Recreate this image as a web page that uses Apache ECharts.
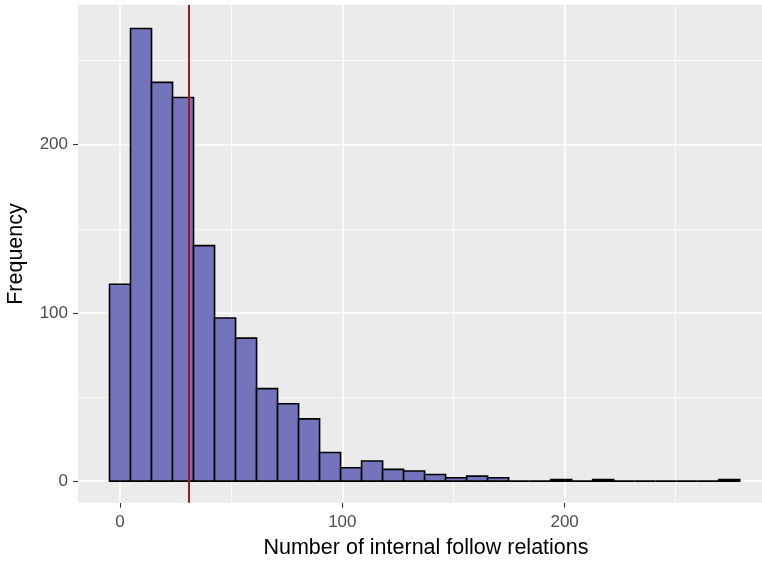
<!DOCTYPE html>
<html>
<head>
<meta charset="utf-8">
<script src="https://cdn.jsdelivr.net/npm/echarts@6/dist/echarts.min.js"></script>
<style>
  html, body { margin: 0; padding: 0; background: #fff; }
  #chart { width: 762px; height: 561px; }
</style>
</head>
<body>
<div id="chart"></div>
<script>
// histogram bins (centre of each bin) and counts
const binWidth = 9.45
const binCenters = [0, 9.45, 18.9, 28.35, 37.8, 47.25, 56.7, 66.15, 75.6, 85.05,
  94.5, 103.95, 113.4, 122.85, 132.3, 141.75, 151.2, 160.65, 170.1, 179.55,
  189, 198.45, 207.9, 217.35, 226.8, 236.25, 245.7, 255.15, 264.6, 274.05]
const counts = [117, 269, 237, 228, 140, 97, 85, 55, 46, 37,
  17, 8, 12, 7, 6, 4, 2, 3, 2, 0,
  0, 1, 0, 1, 0, 0, 0, 0, 0, 1]
const meanValue = 31

const xTicks = [0, 100, 200]
const xMinor = [50, 150, 250]
const yTicks = [0, 100, 200]
const yMinor = [50, 150, 250]

const font = 'Liberation Sans, Arial, sans-serif'
const chart = echarts.init(document.getElementById('chart'))

const gridLines = (vals, key, width) => vals.map(v => ({
  [key]: v,
  lineStyle: { color: '#ffffff', width: width, type: 'solid' }
}))

chart.setOption({
  animation: false,
  grid: {
    left: 78, right: 0, top: 5, bottom: 58.3,
    show: true, backgroundColor: '#EBEBEB', borderWidth: 0
  },
  xAxis: {
    type: 'value',
    min: -18.9,
    max: 288.8,
    splitLine: { show: false },
    axisLine: { show: false, onZero: false },
    axisTick: { show: true, customValues: xTicks, length: 5, lineStyle: { color: '#333333', width: 1.1 } },
    axisLabel: { customValues: xTicks, color: '#4D4D4D', fontSize: 17, fontFamily: font, margin: 11 }
  },
  yAxis: {
    type: 'value',
    min: -12.8,
    max: 283,
    splitLine: { show: false },
    axisLine: { show: false, onZero: false },
    axisTick: { show: true, customValues: yTicks, length: 5, lineStyle: { color: '#333333', width: 1.1 } },
    axisLabel: { customValues: yTicks, color: '#4D4D4D', fontSize: 17, fontFamily: font, margin: 10 }
  },
  series: [
    {
      // panel grid lines, kept under the bars
      type: 'line',
      data: [],
      z: 1,
      silent: true,
      markLine: {
        z: 1,
        silent: true,
        symbol: ['none', 'none'],
        label: { show: false },
        data: [
          ...gridLines(xMinor, 'xAxis', 0.8),
          ...gridLines(yMinor, 'yAxis', 0.8),
          ...gridLines(xTicks, 'xAxis', 1.6),
          ...gridLines(yTicks, 'yAxis', 1.6)
        ]
      }
    },
    {
      type: 'custom',
      z: 3,
      data: binCenters.map((c, i) => [c, counts[i]]),
      renderItem: (params, api) => {
        const c = api.value(0)
        const n = api.value(1)
        const p0 = api.coord([c - binWidth / 2, n])
        const p1 = api.coord([c + binWidth / 2, 0])
        return {
          type: 'rect',
          shape: { x: p0[0], y: p0[1], width: p1[0] - p0[0], height: p1[1] - p0[1] },
          style: { fill: '#7474BC', stroke: '#000000', lineWidth: 1.6 }
        }
      },
      markLine: {
        z: 6,
        silent: true,
        symbol: ['none', 'none'],
        label: { show: false },
        lineStyle: { color: '#A3191E', width: 2, type: 'solid' },
        data: [{ xAxis: meanValue }]
      }
    }
  ],
  graphic: [
    {
      type: 'text',
      x: 16.5, y: 254,
      rotation: Math.PI / 2,
      style: { text: 'Frequency', font: '21.5px ' + font, fill: '#000', align: 'center', verticalAlign: 'middle' }
    },
    {
      type: 'text',
      x: 426, y: 548,
      style: { text: 'Number of internal follow relations', font: '21.5px ' + font, fill: '#000', align: 'center', verticalAlign: 'middle' }
    }
  ]
})

window.addEventListener('resize', function () {
  chart.resize()
})
</script>
</body>
</html>
